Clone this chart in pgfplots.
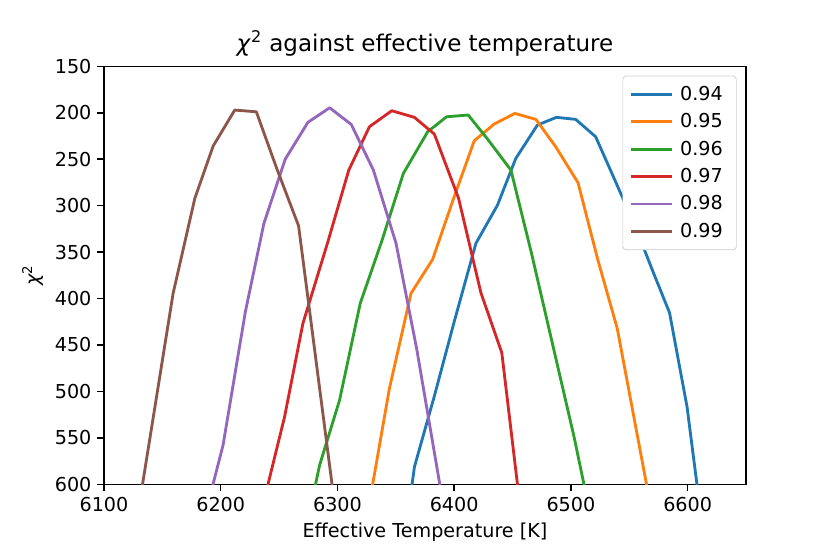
\documentclass[border=0pt]{standalone}
\usepackage{fontspec}
\setmainfont{DejaVu Sans}
\usepackage{pgfplots}
\pgfplotsset{compat=1.18}
\definecolor{c0}{HTML}{1F77B4}
\definecolor{c1}{HTML}{FF7F0E}
\definecolor{c2}{HTML}{2CA02C}
\definecolor{c3}{HTML}{D62728}
\definecolor{c4}{HTML}{9467BD}
\definecolor{c5}{HTML}{8C564B}
\newcommand{\chisq}{\textit{χ}\textsuperscript{2}}
\begin{document}
\begin{tikzpicture}
\useasboundingbox (-62.4pt,-41.8pt) rectangle (435.6pt,290.6pt);
\begin{axis}[
  at={(0,0)}, anchor=south west,
  scale only axis, width=385.2pt, height=250.8pt,
  xmin=6100, xmax=6650, ymin=150, ymax=600,
  y dir=reverse,
  xtick={6100,6200,...,6600}, ytick={150,200,...,600},
  xtick pos=left, ytick pos=left, tick align=outside,
  major tick length=4pt,
  every tick/.style={black, line width=0.9pt},
  axis line style={line width=0.9pt},
  /pgf/number format/assume math mode=true,
  /pgf/number format/1000 sep={},
  tick label style={font=\fontsize{11.5}{13.8}\selectfont},
  title={\chisq{} against effective temperature},
  title style={font=\fontsize{13.8}{16.5}\selectfont, yshift=-3.4pt},
  xlabel={Effective Temperature [K]},
  ylabel={\chisq},
  label style={font=\fontsize{11.5}{13.8}\selectfont},
  legend style={at={(0.9855,0.9775)}, anchor=north east, draw=black!20, rounded corners=2pt,
    font=\fontsize{11.5}{13.8}\selectfont, row sep=2.4pt, inner xsep=4.2pt, inner ysep=4pt,
    nodes={inner xsep=3.9pt}},
  legend cell align=left,
  legend image code/.code={\draw[#1] (0pt,0pt) -- (24.6pt,0pt);},
  every axis plot/.append style={line width=1.7pt, line join=round},
  clip=true,
]
\addplot[c0] coordinates {(6348,743) (6366,581) (6383,505) (6400,425) (6418.6,340.6) (6437.1,299.4) (6452.8,249.1) (6471.3,213.2) (6487.6,204.9) (6504.1,207.1) (6521.2,225.8) (6538.3,274.3) (6555,322) (6570,370) (6584.5,415.3) (6599.5,516.6) (6615,669)};
\addlegendentry{0.94}
\addplot[c1] coordinates {(6326,630) (6344.5,496.8) (6363,394.5) (6381.5,357.9) (6399,294) (6417.2,230.1) (6434.3,212.1) (6452,200.7) (6470,207.1) (6487,236.6) (6506.1,275.3) (6523,358) (6539.7,432.2) (6570,635)};
\addlegendentry{0.95}
\addplot[c2] coordinates {(6266,690) (6284.7,579.4) (6301.8,509.4) (6319.5,405.2) (6338,338) (6356.5,265.2) (6377.3,220.4) (6393.5,204.3) (6412,202.4) (6428.6,228.3) (6448.6,261.7) (6466,350) (6502.7,548.9) (6520,653)};
\addlegendentry{0.96}
\addplot[c3] coordinates {(6236,623) (6254.7,527.3) (6270.4,426.8) (6291.8,338.9) (6309.7,261.7) (6327.4,215) (6346.5,197.8) (6365.9,204.9) (6383,222.9) (6403.8,292.2) (6422.9,393.8) (6440.8,458.4) (6458,640)};
\addlegendentry{0.97}
\addplot[c4] coordinates {(6185,641) (6202,557.8) (6221.1,414.3) (6237,319) (6255.3,249.8) (6274.7,210.3) (6293.3,194.6) (6311.8,212.5) (6330.8,261.7) (6350.2,340.6) (6368,455) (6395,654)};
\addlegendentry{0.98}
\addplot[c5] coordinates {(6120,702) (6159.2,394.5) (6177.8,292.2) (6193.5,235.8) (6212,197.1) (6230.5,198.9) (6248,260) (6266.7,321.7) (6300,645)};
\addlegendentry{0.99}
\end{axis}
\end{tikzpicture}
\end{document}
